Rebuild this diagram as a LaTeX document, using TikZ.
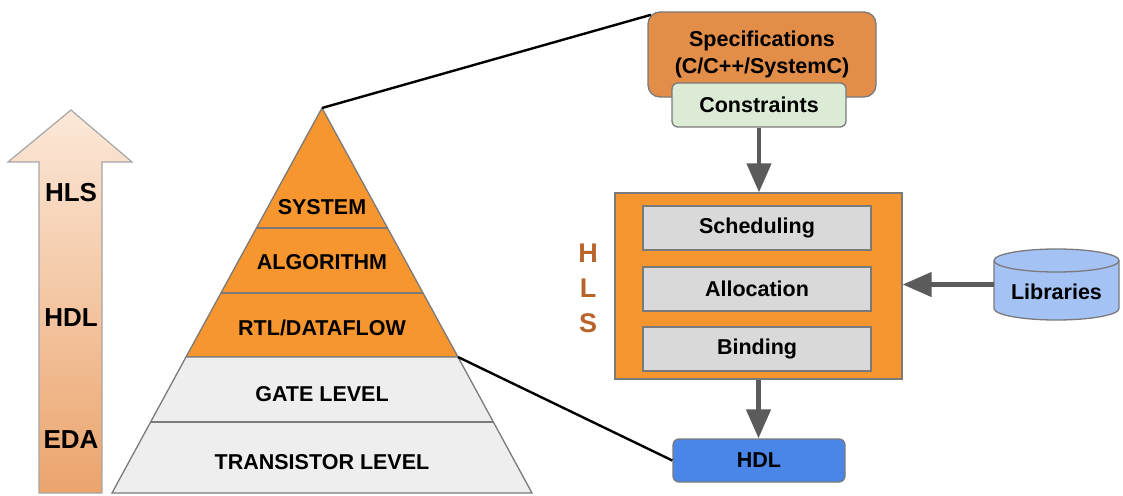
\documentclass[tikz,border=0pt]{standalone}
\usepackage{fontspec}
\setmainfont{Liberation Sans}
\usetikzlibrary{arrows.meta}
\usepackage{xcolor}

\definecolor{pyrorange}{HTML}{F7962F}
\definecolor{pyrgray}{HTML}{EEEEEE}
\definecolor{specorange}{HTML}{E28D48}
\definecolor{consgreen}{HTML}{DCEBD5}
\definecolor{stagegray}{HTML}{D9D9D9}
\definecolor{libblue}{HTML}{A4C2F4}
\definecolor{hdlblue}{HTML}{4A86E8}
\definecolor{rimgray}{HTML}{7A7A7A}
\definecolor{flowgray}{HTML}{5B5B5B}
\definecolor{risetop}{HTML}{FCE8D9}
\definecolor{risebot}{HTML}{EBA46C}
\definecolor{hlsbrown}{HTML}{B8642A}

\begin{document}
\begin{tikzpicture}[x=1pt,y=-1pt]

		\tikzset{txt/.style = {font=\bfseries\fontsize{21.5}{27}\selectfont, text=black, inner sep=0pt, align=center}}
		\tikzset{tag/.style = {font=\bfseries\fontsize{26}{30}\selectfont, text=black, inner sep=0pt}}
		\tikzset{box/.style = {txt, draw=rimgray, line width=1.3pt, minimum height=44pt}}
		\tikzset{stage/.style = {box, fill=stagegray, minimum width=228pt}}
		\tikzset{rim/.style = {draw=rimgray, line width=1.3pt}}
		\tikzset{flow/.style = {draw=flowgray, line width=4.5pt, -{Triangle[width=24pt,length=29pt]}}}
		\tikzset{link/.style = {draw=black, line width=2.4pt}}

		\useasboundingbox (0,0) rectangle (1123,495);

		% rising arrow on the left
		\shadedraw[top color=risetop, bottom color=risebot, draw=gray!70, line width=1.2pt]
			(39,493) -- (39,162) -- (8,162) -- (71,110) -- (132,162) -- (102,162) -- (102,493) -- cycle;
		\node[tag] (tHLS) at (71,193) {HLS};
		\node[tag] (tHDL) at (71,318) {HDL};
		\node[tag] (tEDA) at (71,440) {EDA};

		% pyramid
		\coordinate (apex) at (322,108);
		\coordinate (rtlL) at (186,357);
		\coordinate (rtlR) at (458,357);
		\filldraw[rim, fill=pyrorange] (apex) -- (rtlR) -- (rtlL) -- cycle;
		\filldraw[rim, fill=pyrgray] (rtlL) -- (rtlR) -- (532,493) -- (112,493) -- cycle;
		\draw[rim] (256.5,228) -- (387.5,228);
		\draw[rim] (221,293) -- (423,293);
		\draw[rim] (150.7,422) -- (493.3,422);
		\node[txt] (sys) at (322,207) {SYSTEM};
		\node[txt] (alg) at (322,262) {ALGORITHM};
		\node[txt] (rtl) at (322,328) {RTL/DATAFLOW};
		\node[txt] (gate) at (322,394) {GATE LEVEL};
		\node[txt] (tran) at (322,462) {TRANSISTOR LEVEL};

		% flow on the right
		\node[box, fill=specorange, rounded corners=12pt, minimum width=228pt, minimum height=85pt] (spec) at (762,54.5) {Specifications\\(C/C++/SystemC)};
		\node[box, fill=consgreen, rounded corners=6pt, minimum width=174pt] (cons) at (759,105) {Constraints};
		\node[rim, fill=pyrorange, minimum width=287pt, minimum height=186pt] (hls) at (758.5,286) {};
		\node[stage] (sched) at (757,228) {Scheduling};
		\node[stage] (alloc) at (757,289) {Allocation};
		\node[stage] (bind) at (757,349) {Binding};
		\node[font=\bfseries\fontsize{27}{35}\selectfont, text=hlsbrown, align=center, inner sep=0pt] (hlsside) at (588,288) {H\\L\\S};
		\node[box, fill=hdlblue, rounded corners=6pt, minimum width=172pt, minimum height=43pt] (hdl) at (759,460.5) {HDL};

		% library cylinder
		\filldraw[rim, fill=libblue] (994,260.5) -- (994,308.5) arc[start angle=180, end angle=0, x radius=62.5, y radius=11.5]
			-- (1119,260.5) arc[start angle=0, end angle=-180, x radius=62.5, y radius=11.5] -- cycle;
		\draw[rim] (994,260.5) arc[start angle=180, end angle=0, x radius=62.5, y radius=11.5];
		\node[txt, minimum width=125pt, minimum height=71pt] (lib) at (1056.5,284.5) {};
		\node[txt] (libtxt) at (1056.5,292) {Libraries};

		%edges
		\draw[flow] (cons.south) -- (cons.south |- hls.north);
		\draw[flow] (lib.west) -- (lib.west -| hls.east);
		\draw[flow] (hls.south) -- (hls.south |- hdl.north);
		\draw[link] (apex) -- ([shift={(3.5,3.5)}]spec.north west);
		\draw[link] (rtlR) -- (hdl.west);
\end{tikzpicture}
\end{document}
